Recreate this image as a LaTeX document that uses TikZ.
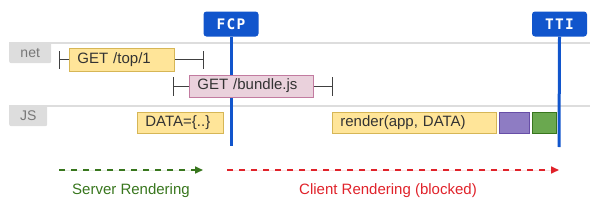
\documentclass[tikz,border=0pt]{standalone}
\usepackage{fontspec}
\setmainfont{Liberation Sans}
\newfontfamily\badgefont{DejaVu Sans Mono}
\usetikzlibrary{arrows.meta}
\definecolor{fcpblue}{HTML}{1155CC}
\definecolor{rowgrey}{HTML}{DDDDDD}
\definecolor{labgrey}{HTML}{777777}
\definecolor{yfill}{HTML}{FFE599}
\definecolor{ydraw}{HTML}{D6B656}
\definecolor{pfill}{HTML}{EAD1DC}
\definecolor{pdraw}{HTML}{C27BA0}
\definecolor{vfill}{HTML}{8E7CC3}
\definecolor{vdraw}{HTML}{674EA7}
\definecolor{gfill}{HTML}{6AA84F}
\definecolor{gdraw}{HTML}{38761D}
\definecolor{srvgreen}{HTML}{38761D}
\definecolor{clired}{HTML}{E0222A}
\tikzset{
  badge/.style={fill=fcpblue, text=white, rounded corners=3pt, inner sep=0pt,
    minimum height=25pt, font=\badgefont\bfseries\fontsize{14.5}{14.5}\selectfont},
  marker/.style={draw=fcpblue, line width=3pt},
  rowline/.style={draw=rowgrey, line width=1.6pt},
  rowlabel/.style={fill=rowgrey, text=labgrey, rounded corners=2pt, inner sep=0pt,
    minimum height=21pt, font=\fontsize{14}{14}\selectfont},
  taskbox/.style={draw, line width=0.8pt, inner xsep=8pt, inner ysep=0pt, minimum height=22pt,
    align=left, anchor=west, font=\fontsize{15}{15}\selectfont, text=black!80},
  ytask/.style={taskbox, fill=yfill, draw=ydraw},
  ptask/.style={taskbox, fill=pfill, draw=pdraw},
  whisker/.style={draw=black!75, line width=1pt},
  phase/.style={line width=1.6pt, dash pattern=on 6pt off 6pt, -{Triangle[length=8pt,width=7pt]}},
  phaselabel/.style={font=\fontsize{15}{15}\selectfont}
}
\begin{document}
\begin{tikzpicture}[x=1pt,y=-1pt]
\useasboundingbox (0,0) rectangle (599,209);
% row lines
\coordinate (netL) at (9,43);
\coordinate (netR) at (590,43);
\coordinate (jsL) at (9,106);
\coordinate (jsR) at (590,106);
\draw[rowline] (netL) -- (netR);
\draw[rowline] (jsL) -- (jsR);
\node[rowlabel, minimum width=42pt, anchor=north west] (net) at (9,42) {net};
\node[rowlabel, minimum width=38pt, anchor=north west] (js) at (9,105) {JS};
% markers
\node[badge, minimum width=55pt] (fcp) at (231,24) {F\kern1.2pt C\kern1.2pt P};
\node[badge, minimum width=55pt] (tti) at (559.5,24) {T\kern1.2pt T\kern1.2pt I};
\coordinate (fcpEnd) at (231,146);
\coordinate (ttiEnd) at (559,147);
\draw[marker] (fcp.south) -- (fcpEnd);
\draw[marker] (tti.south) -- (ttiEnd);
% GET /top/1
\coordinate (w1l) at (59,59.5);
\coordinate (w1r) at (203,59.5);
\draw[whisker] (w1l) -- (w1r);
\draw[whisker] ([yshift=-9pt]w1l) -- ([yshift=9pt]w1l);
\draw[whisker] ([yshift=-9pt]w1r) -- ([yshift=9pt]w1r);
\node[ytask, text width=89pt, minimum height=23pt] (get1) at (69,59.5) {GET /top/1};
% GET /bundle.js
\coordinate (w2l) at (173,86);
\coordinate (w2r) at (332,86);
\draw[whisker] (w2l) -- (w2r);
\draw[whisker] ([yshift=-9.5pt]w2l) -- ([yshift=9.5pt]w2l);
\draw[whisker] ([yshift=-9.5pt]w2r) -- ([yshift=9.5pt]w2r);
\node[ptask, text width=108pt] (get2) at (189,86) {GET /bundle.js};
% JS tasks
\node[ytask, text width=70pt, minimum height=21pt] (data) at (137,122.5) {DATA=\{..\}};
\node[ytask, text width=148pt, minimum height=21pt] (render) at (332,122.5) {render(app, DATA)};
\node[taskbox, fill=vfill, draw=vdraw, minimum width=30pt, minimum height=21pt, inner xsep=0pt] (purple) at (499,122.5) {};
\node[taskbox, fill=gfill, draw=gdraw, minimum width=24pt, minimum height=21pt, inner xsep=0pt] (green) at (532,122.5) {};
% phases
\coordinate (s0) at (59,170);
\coordinate (s1) at (203,170);
\coordinate (c0) at (227,170);
\coordinate (c1) at (559,170);
\draw[phase, draw=srvgreen, fill=srvgreen] (s0) -- (s1);
\draw[phase, draw=clired, fill=clired] (c0) -- (c1);
\node[phaselabel, text=srvgreen] (srv) at (131,190.5) {Server Rendering};
\node[phaselabel, text=clired] (cli) at (388,190.5) {Client Rendering (blocked)};
\end{tikzpicture}
\end{document}
